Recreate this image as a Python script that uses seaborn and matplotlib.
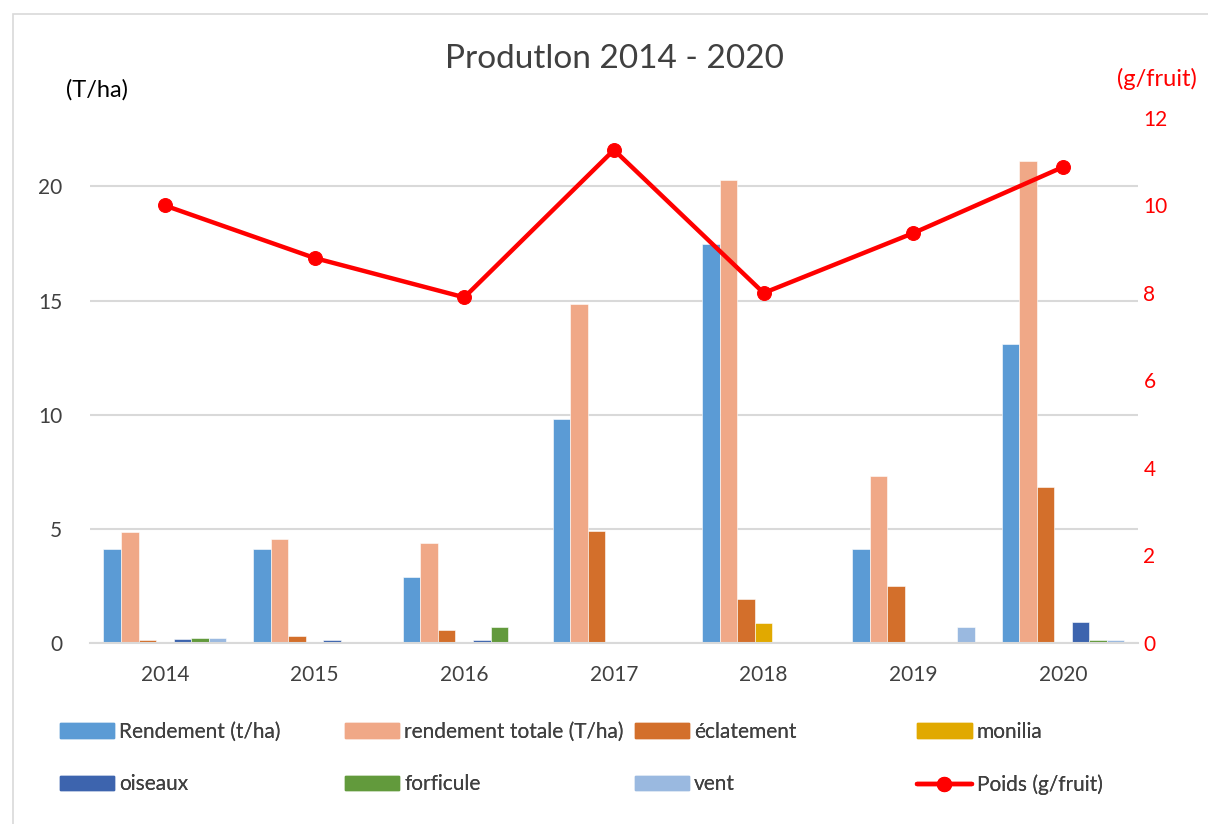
import numpy as np
import pandas as pd
import matplotlib.pyplot as plt
import seaborn as sns
from matplotlib.patches import Rectangle, Patch
from matplotlib.lines import Line2D

# valeurs
annees = ['2014', '2015', '2016', '2017', '2018', '2019', '2020']
rendement = [4.1, 4.1, 2.9, 9.8, 17.5, 4.1, 13.1]
rendement_totale = [4.84, 4.55, 4.4, 14.87, 20.3, 7.3, 21.1]
eclatement = [0.12, 0.29, 0.59, 4.9, 1.92, 2.5, 6.84]
monilia = [0.0, 0.0, 0.02, 0.05, 0.87, 0.0, 0.0]
oiseaux = [0.16, 0.12, 0.15, 0.05, 0.0, 0.0, 0.92]
forficule = [0.2, 0.0, 0.72, 0.0, 0.0, 0.0, 0.12]
vent = [0.2, 0.0, 0.0, 0.0, 0.0, 0.7, 0.12]
poids = [10.0, 8.8, 7.9, 11.27, 8.0, 9.37, 10.88]

series = ['Rendement (t/ha)', 'rendement totale (T/ha)', 'éclatement', 'monilia',
          'oiseaux', 'forficule', 'vent']
couleurs = ['#5B9BD5', '#F0A887', '#D36F2B', '#E1A900', '#3D64AE', '#629A3C', '#9AB9E0']

valeurs = [rendement, rendement_totale, eclatement, monilia, oiseaux, forficule, vent]
df = pd.DataFrame({
    'annee': np.tile(annees, len(series)),
    'serie': np.repeat(series, len(annees)),
    'val': np.concatenate(valeurs),
})

sns.set_style('white')
plt.rcParams['font.family'] = ['Lato', 'DejaVu Sans']

fig = plt.figure(figsize=(12.08, 8.24), dpi=100)
ax = fig.add_axes([0.0745, 0.2197, 0.8675, 0.6371])

sns.barplot(data=df, x='annee', y='val', hue='serie', palette=couleurs, width=0.82,
            saturation=1, ax=ax, legend=False, edgecolor='white', linewidth=0.4,
            errorbar=None)
ax.set_ylim(0, 23.0)
ax.set_xlim(-0.5, 6.5)
ax.set_yticks([0, 5, 10, 15, 20])
ax.yaxis.grid(True, color='#d9d9d9', linewidth=1.5)
ax.set_axisbelow(True)
for s in ['top', 'right', 'left']:
    ax.spines[s].set_visible(False)
ax.spines['bottom'].set_color('#d9d9d9')
ax.spines['bottom'].set_linewidth(1.5)
ax.tick_params(axis='both', length=0, labelsize=15, labelcolor='#404040')
ax.tick_params(axis='y', pad=20)
ax.tick_params(axis='x', pad=16)
ax.set_xlabel('')
ax.set_ylabel('')

ax2 = ax.twinx()
sns.lineplot(x=np.arange(len(annees)), y=poids, ax=ax2, color='#FF0000', linewidth=3.2,
             marker='o', markersize=10, markeredgecolor='#FF0000')
ax2.set_ylim(0, 12)
ax2.set_yticks([0, 2, 4, 6, 8, 10, 12])
ax2.tick_params(axis='y', length=0, labelsize=15, labelcolor='#FF0000', pad=4)
for s in ax2.spines.values():
    s.set_visible(False)

fig.text(0.509, 0.929, 'Produtlon 2014 - 2020', ha='center', va='center', fontsize=24, color='#404040')
fig.text(0.080, 0.891, '(T/ha)', ha='center', va='center', fontsize=17, color='#000000')
fig.text(0.958, 0.904, '(g/fruit)', ha='center', va='center', fontsize=17, color='#FF0000')

# cadre du graphique
fig.patches.append(Rectangle((0.0108, -0.01), 1.0, 0.993, transform=fig.transFigure,
                             fill=False, edgecolor='#d9d9d9', linewidth=1.2))

# légende en 2 lignes, colonnes fixes
handles = [Patch(color=c) for c in couleurs]
handles.append(Line2D([0], [0], color='#FF0000', linewidth=3.2, marker='o', markersize=10))
labels = series + ['Poids (g/fruit)']
col_x = [0.0425, 0.2785, 0.5185, 0.7525]
for i, x in enumerate(col_x):
    idx = [i, i + 4]
    leg = fig.legend([handles[j] for j in idx], [labels[j] for j in idx],
                     loc='upper left', bbox_to_anchor=(x, 0.134), frameon=False,
                     fontsize=15, labelcolor='#404040', handlelength=2.6, handleheight=0.7,
                     handletextpad=0.25, labelspacing=1.55, borderaxespad=0)
    fig.add_artist(leg)

fig.savefig('out.png', dpi=100)
